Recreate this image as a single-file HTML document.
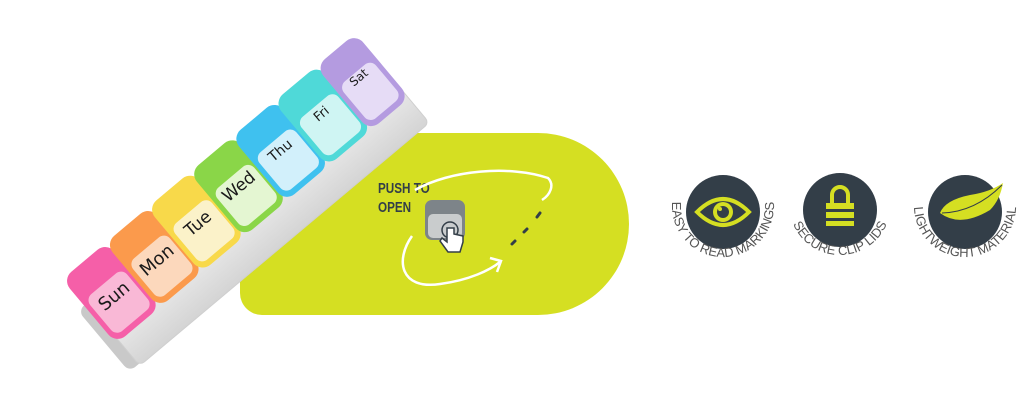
<!DOCTYPE html>
<html><head><meta charset="utf-8"><style>
html,body{margin:0;padding:0;background:#fff;}
svg{display:block}
</style></head><body>
<svg width="1024" height="404" viewBox="0 0 1024 404" xmlns="http://www.w3.org/2000/svg" font-family="Liberation Sans, sans-serif">
<defs>
<linearGradient id="wg" x1="0" y1="0" x2="0" y2="1"><stop offset="0" stop-color="#f6f6f6"/><stop offset="1" stop-color="#d4d4d4"/></linearGradient>
<path id="a1" d="M672,206 A51,51 0 0 0 774,206"/>
<path id="a2" d="M789,204 A51,51 0 0 0 891,204"/>
<path id="a3" d="M914,206 A51,51 0 0 0 1016,206"/>
</defs>
<!-- green pill -->
<path d="M262,133 H538 A91,91 0 0 1 538,315 H262 A22,22 0 0 1 240,293 V155 A22,22 0 0 1 262,133 Z" fill="#d5df22"/>
<!-- push to open -->
<g font-size="15" font-weight="bold" fill="#333e48" transform="translate(378,0) scale(0.78,1)">
<text x="0" y="193">PUSH TO</text>
<text x="0" y="212">OPEN</text>
</g>
<path d="M412,236 C395,260 400,290 440,284 C470,280 490,270 500,262" fill="none" stroke="#fff" stroke-width="2.5"/>
<path d="M490,258 L501,261 L497,272" fill="none" stroke="#fff" stroke-width="2.5"/>
<path d="M415,190 C450,170 510,165 548,178 C555,185 550,195 542,200" fill="none" stroke="#fff" stroke-width="2.5"/>
<g stroke="#333e48" stroke-width="3" stroke-linecap="round">
<line x1="512" y1="244" x2="515" y2="241"/><line x1="524" y1="232" x2="527" y2="229"/><line x1="537" y1="217" x2="540" y2="213"/>
</g>
<rect x="425" y="200" width="40" height="40" rx="7" fill="#7d8489"/>
<rect x="428" y="214" width="34" height="24" rx="5" fill="#c9cccd"/>
<circle cx="450" cy="230" r="8" fill="none" stroke="#333e48" stroke-width="1.5"/>
<path d="M447,228 v14 l-5,-4 l-2,3 l8,11 h12 l3,-10 v-6 l-9,-2 v-6 z" fill="#fff" stroke="#333e48" stroke-width="1.5"/>
<!-- organizer -->
<g transform="translate(118,290) rotate(-40)">
<rect x="-44" y="-10" width="390" height="80" rx="8" fill="#c9c9c9"/>
<rect x="-32" y="0" width="378" height="72" rx="6" fill="url(#wg)" stroke="#cfcfcf"/>
<rect x="-36" y="-44" width="58" height="84" rx="12" fill="#f55fa8"/>
<rect x="-31" y="-14" width="48" height="48" rx="8" fill="#f9b8d6"/>
<rect x="20" y="-44" width="58" height="84" rx="12" fill="#fb9a4c"/>
<rect x="25" y="-14" width="48" height="48" rx="8" fill="#fcd8bc"/>
<rect x="75" y="-44" width="58" height="84" rx="12" fill="#f8d94a"/>
<rect x="80" y="-14" width="48" height="48" rx="8" fill="#fbf2c9"/>
<rect x="130" y="-44" width="58" height="84" rx="12" fill="#8ad648"/>
<rect x="135" y="-14" width="48" height="48" rx="8" fill="#e4f6d2"/>
<rect x="185" y="-44" width="58" height="84" rx="12" fill="#3fc1ef"/>
<rect x="190" y="-14" width="48" height="48" rx="8" fill="#d2f0fb"/>
<rect x="240" y="-44" width="58" height="84" rx="12" fill="#4fd9d8"/>
<rect x="245" y="-14" width="48" height="48" rx="8" fill="#cff5f3"/>
<rect x="295" y="-44" width="52" height="84" rx="12" fill="#b49be0"/>
<rect x="300" y="-14" width="42" height="48" rx="8" fill="#e6dcf6"/>
<g font-family="DejaVu Sans, sans-serif" fill="#1a1a1a">
<text x="-7" y="8" font-size="18" text-anchor="middle">Sun</text>
<text x="49" y="8" font-size="18" text-anchor="middle">Mon</text>
<text x="104" y="6" font-size="17" text-anchor="middle">Tue</text>
<text x="159" y="4" font-size="17" text-anchor="middle">Wed</text>
<text x="214" y="2" font-size="14" text-anchor="middle">Thu</text>
<text x="269" y="0" font-size="13" text-anchor="middle">Fri</text>
<text x="321" y="-4" font-size="12" text-anchor="middle">Sat</text>
</g>
</g>
<!-- icons -->
<circle cx="723" cy="212" r="37" fill="#333e48"/>
<path d="M697,212 Q723,186 749,212 Q723,238 697,212 Z" fill="none" stroke="#d5df22" stroke-width="4"/>
<circle cx="723" cy="212" r="10" fill="#d5df22"/><circle cx="723" cy="212" r="6" fill="#333e48"/><circle cx="720" cy="209" r="2" fill="#d5df22"/>
<circle cx="840" cy="210" r="37" fill="#333e48"/>
<path d="M832,203 v-8 a8,8 0 0 1 16,0 v8" fill="none" stroke="#d5df22" stroke-width="4"/>
<rect x="826" y="203" width="28" height="6" fill="#d5df22"/><rect x="826" y="212" width="28" height="6" fill="#d5df22"/><rect x="826" y="221" width="28" height="5" fill="#d5df22"/>
<circle cx="965" cy="212" r="37" fill="#333e48"/>
<path d="M940,213 Q960,228 990,210 Q1000,200 1003,183 Q990,192 970,195 Q945,200 940,213 Z" fill="#d5df22"/>
<path d="M942,213 Q975,212 1002,185" fill="none" stroke="#333e48" stroke-width="1"/>
<g font-size="13" fill="#555" font-family="Liberation Sans Narrow, Liberation Sans, sans-serif">
<text><textPath href="#a1" startOffset="50%" text-anchor="middle">EASY TO READ MARKINGS</textPath></text>
<text><textPath href="#a2" startOffset="50%" text-anchor="middle">SECURE CLIP LIDS</textPath></text>
<text><textPath href="#a3" startOffset="50%" text-anchor="middle">LIGHTWEIGHT MATERIAL</textPath></text>
</g>
</svg>
</body></html>
